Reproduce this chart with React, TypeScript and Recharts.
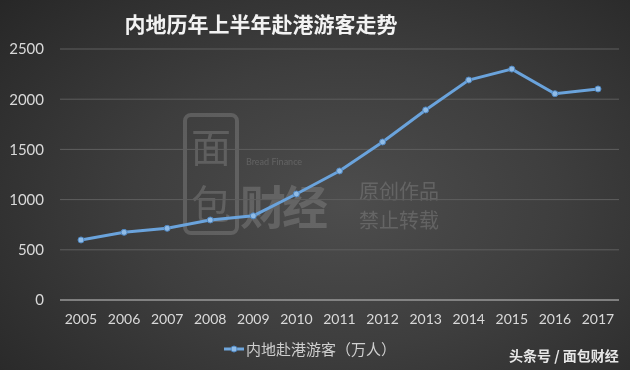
import React from "react";
import { LineChart, Line, XAxis, YAxis, CartesianGrid } from "recharts";

const years = ["2005", "2006", "2007", "2008", "2009", "2010", "2011", "2012", "2013", "2014", "2015", "2016", "2017"];
const visitors = [598, 674, 714, 797, 838, 1056, 1285, 1574, 1893, 2191, 2300, 2055, 2102];
const yTicks = [0, 500, 1000, 1500, 2000, 2500];

const seriesName = "内地赴港游客（万人）";
const cjk = '"Noto Sans CJK SC", "Noto Sans", sans-serif';
const num = 'Lato, "Open Sans", sans-serif';

const data = years.map((y, i) => ({ year: y, value: visitors[i] }));

const wm = "rgba(160,160,160,0.32)";

export default function App() {
  return (
    <div
      style={{
        position: "fixed",
        left: 0,
        top: 0,
        width: 630,
        height: 370,
        overflow: "hidden",
        background: "radial-gradient(ellipse 75% 85% at 55% 55%, #4d4d4d 0%, #3e3e3e 45%, #262626 100%)",
      }}
    >
      {/* watermark */}
      <div
        style={{
          position: "absolute",
          left: 183,
          top: 113,
          width: 56,
          height: 122,
          border: `4px solid ${wm}`,
          borderRadius: 8,
          boxSizing: "border-box",
          color: wm,
          fontFamily: cjk,
          fontSize: 40,
          lineHeight: "57px",
          textAlign: "center",
        }}
      >
        <div>面</div>
        <div>包</div>
      </div>
      <div style={{ position: "absolute", left: 246, top: 157, fontFamily: num, fontSize: 9, lineHeight: "10px", color: wm }}>Bread Finance</div>
      <div style={{ position: "absolute", left: 240, top: 181, fontFamily: cjk, fontSize: 46, fontWeight: 700, color: wm, lineHeight: "46px", letterSpacing: -4 }}>
        财经
      </div>
      <div style={{ position: "absolute", left: 359, top: 180, fontFamily: cjk, fontSize: 20, color: wm, lineHeight: "22px" }}>原创作品</div>
      <div style={{ position: "absolute", left: 359, top: 209, fontFamily: cjk, fontSize: 20, color: wm, lineHeight: "22px" }}>禁止转载</div>

      <div
        style={{
          position: "absolute",
          left: 123,
          top: 8,
          width: 276,
          textAlign: "center",
          fontFamily: cjk,
          fontSize: 21,
          fontWeight: 700,
          color: "#f2f2f2",
          whiteSpace: "nowrap",
        }}
      >
        内地历年上半年赴港游客走势
      </div>

      <div style={{ position: "absolute", left: 0, top: 0 }}>
        <LineChart width={630} height={370} data={data} margin={{ top: 49, right: 11, bottom: 40, left: 0 }}>
          <CartesianGrid vertical={false} stroke="#5e5e5e" strokeWidth={1} />
          <XAxis
            dataKey="year"
            axisLine={{ stroke: "#b5b5b5", strokeWidth: 1 }}
            tickLine={false}
            tickMargin={8}
            padding={{ left: 21, right: 21 }}
            tick={{ fill: "#d9d9d9", fontSize: 14, fontFamily: num }}
            interval={0}
          />
          <YAxis
            width={60}
            domain={[0, 2500]}
            ticks={yTicks}
            axisLine={false}
            tickLine={false}
            tickMargin={10}
            tick={{ fill: "#d9d9d9", fontSize: 15, fontFamily: num }}
          />
          <Line
            type="linear"
            dataKey="value"
            name={seriesName}
            stroke="#6aa3dc"
            strokeWidth={3}
            dot={{ r: 3, fill: "#8fbbe6", stroke: "#4f86c0", strokeWidth: 1 }}
            isAnimationActive={false}
          />
        </LineChart>
      </div>

      {/* legend */}
      <div
        style={{
          position: "absolute",
          left: 224,
          top: 338,
          display: "flex",
          alignItems: "center",
          fontFamily: cjk,
          fontSize: 15,
          color: "#cfcfcf",
          whiteSpace: "nowrap",
        }}
      >
        <svg width={20} height={10} style={{ marginRight: 2 }}>
          <line x1={0} y1={5} x2={20} y2={5} stroke="#6fa6dc" strokeWidth={3} />
          <circle cx={10} cy={5} r={3} fill="#8fbbe6" stroke="#4f86c0" />
        </svg>
        <span>{seriesName}</span>
      </div>

      <div
        style={{
          position: "absolute",
          left: 509,
          top: 345,
          fontFamily: cjk,
          fontSize: 14,
          fontWeight: 700,
          color: "#e6e6e6",
          whiteSpace: "nowrap",
        }}
      >
        头条号 / 面包财经
      </div>
    </div>
  );
}
